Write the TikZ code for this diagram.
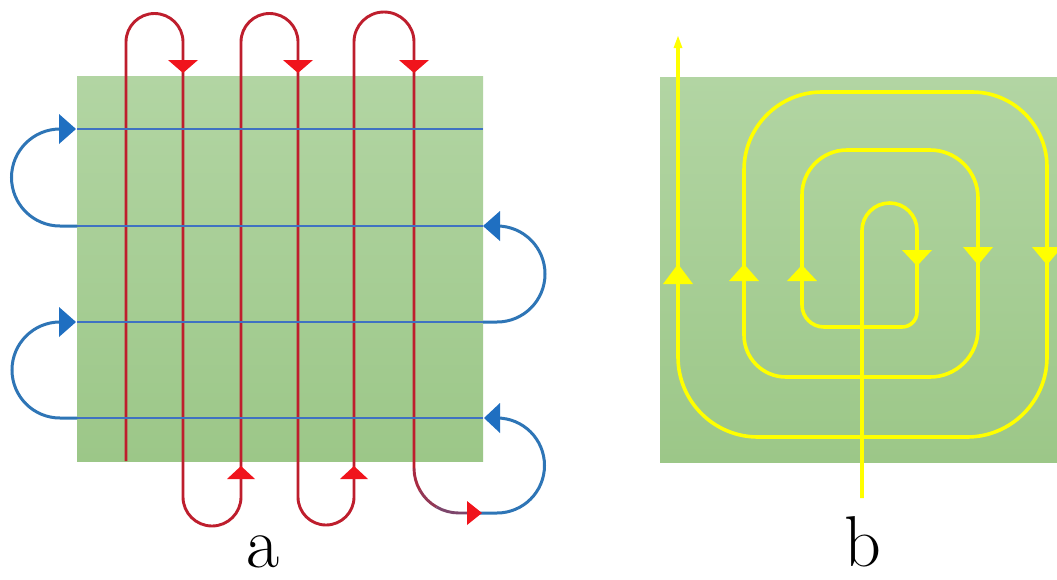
\documentclass[tikz,border=0pt]{standalone}
\usetikzlibrary{arrows.meta}
\definecolor{gtop}{HTML}{B2D5A3}
\definecolor{gbot}{HTML}{9CC788}
\definecolor{redln}{HTML}{BE1E2D}
\definecolor{redarr}{HTML}{F0141C}
\definecolor{blueln}{HTML}{3F72C2}
\definecolor{blueloop}{HTML}{2E75B6}
\definecolor{bluearr}{HTML}{1F6FC1}
\definecolor{yel}{HTML}{FFFF00}
\begin{document}
\begin{tikzpicture}[x=1pt,y=-1pt,
  panel/.style={top color=gtop,bottom color=gbot,draw=none},
  redpath/.style={draw=redln,line width=2.9pt},
  redtip/.style={fill=redarr},
  bluepath/.style={draw=blueln,line width=2.8pt},
  bluelp/.style={draw=blueloop,line width=3pt},
  bluetip/.style={fill=bluearr},
  yelpath/.style={draw=yel,line width=3.6pt},
  yeltip/.style={fill=yel},
  lab/.style={font=\fontsize{72}{72}\selectfont,inner sep=0pt,anchor=base}]
\useasboundingbox[fill=white] (0,0) rectangle (1057,579);
% panels
\path[panel] (77,76) rectangle (483,461);
\path[panel] (660,77) rectangle (1057,462);
% red serpentine
\draw[redpath] (126,461) -- (126,42) arc[start angle=180,end angle=360,radius=28.5]
  -- (183,497) arc[start angle=180,end angle=0,radius=29]
  -- (241,42) arc[start angle=180,end angle=360,radius=28.5]
  -- (298,497) arc[start angle=180,end angle=0,radius=28]
  -- (354,42) arc[start angle=180,end angle=360,radius=30]
  -- (414,468) coordinate (c0);
% colour transition of the last turn
\draw[redpath,draw=redln!85!blueloop] (c0) arc[start angle=180,end angle=150,radius=45] coordinate (c1);
\draw[redpath,draw=redln!70!blueloop] (c1) arc[start angle=150,end angle=120,radius=45] coordinate (c2);
\draw[redpath,draw=redln!55!blueloop] (c2) arc[start angle=120,end angle=90,radius=45] -- (470,513);
% blue lines
\foreach \yy in {129,226,322,418}{\draw[bluepath] (77,\yy) -- (483,\yy);}
% blue loops
\draw[bluelp] (77,226) -- (60,226) arc[start angle=90,end angle=270,radius=48.5] -- (62,129);
\draw[bluelp] (77,418) -- (60,418) arc[start angle=90,end angle=270,radius=48] -- (62,322);
\draw[bluelp] (483,322) -- (497,322) arc[start angle=90,end angle=-90,radius=48] -- (495,226);
\draw[bluelp] (480,513) -- (497,513) arc[start angle=90,end angle=-90,radius=47.5] -- (495,418);
% red tips
\foreach \xx in {183,298,414}{\fill[redtip] (\xx-15,60) -- (\xx+15,60) -- (\xx,73) -- cycle;}
\foreach \xx in {241,354}{\fill[redtip] (\xx-14,479) -- (\xx+14,479) -- (\xx,466) -- cycle;}
\fill[redtip] (467,501) -- (467,525) -- (482,513) -- cycle;
% blue tips
\fill[bluetip] (59,114) -- (59,144) -- (76,129) -- cycle;
\fill[bluetip] (59,307) -- (59,337) -- (76,322) -- cycle;
\fill[bluetip] (500,211) -- (500,241) -- (483,226) -- cycle;
\fill[bluetip] (500,403) -- (500,433) -- (484,418) -- cycle;
% yellow spiral
\draw[yelpath] (862,498) -- (862,230.5) arc[start angle=180,end angle=360,radius=27.5]
  -- (917,312) arc[start angle=0,end angle=90,radius=15]
  -- (824,327) arc[start angle=90,end angle=180,radius=22]
  -- (802,195) arc[start angle=180,end angle=270,radius=45]
  -- (930,150) arc[start angle=270,end angle=360,radius=48]
  -- (978,329) arc[start angle=0,end angle=90,radius=48]
  -- (786,377) arc[start angle=90,end angle=180,radius=42]
  -- (744,170) arc[start angle=180,end angle=270,radius=78]
  -- (972,92) arc[start angle=270,end angle=360,radius=75]
  -- (1047,357) arc[start angle=0,end angle=90,radius=80]
  -- (758,437) arc[start angle=90,end angle=180,radius=80]
  -- (678,46);
% yellow tips
\foreach \xx/\ya/\yb in {917/250/266,978/247/265,1047/247/265}{\fill[yeltip] (\xx-15,\ya) -- (\xx+15,\ya) -- (\xx,\yb) -- cycle;}
\foreach \xx/\ya/\yb in {802/281/265,744/281/264,678/284/264}{\fill[yeltip] (\xx-15,\ya) -- (\xx+15,\ya) -- (\xx,\yb) -- cycle;}
\fill[yeltip] (673.5,48) -- (682.5,48) -- (678,36) -- cycle;
% labels
\node[lab] (la) at (263,567) {a};
\node[lab] (lb) at (863,566) {b};
\end{tikzpicture}
\end{document}
